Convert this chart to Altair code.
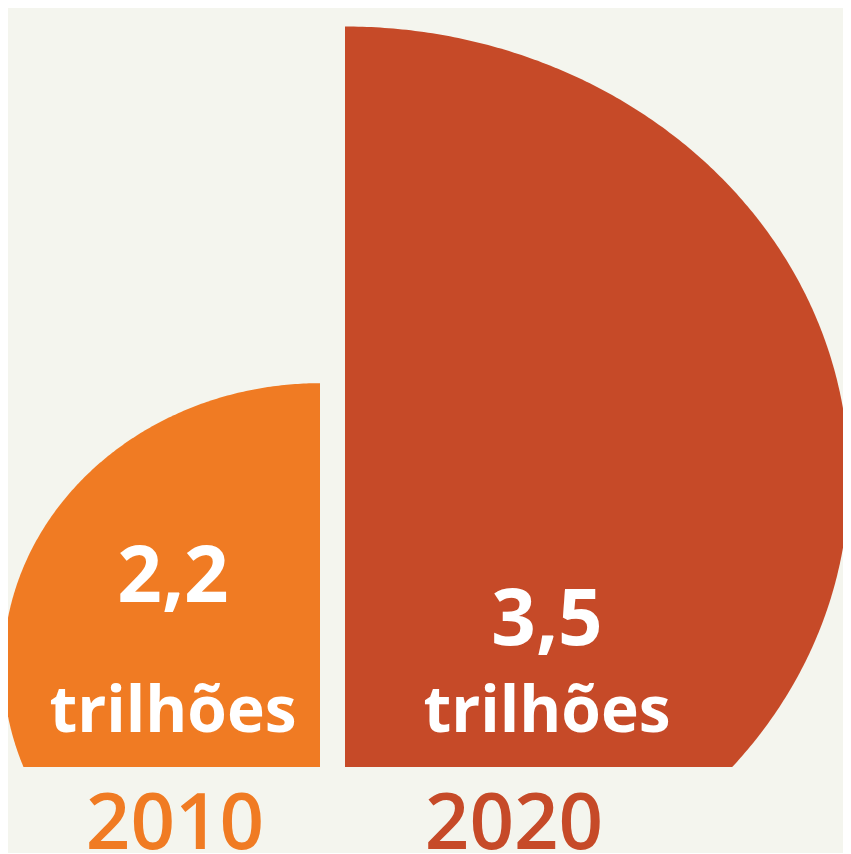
import altair as alt
import pandas as pd

# ---- data ----
years = ["2010", "2020"]
values = [2.2, 3.5]                 # trillions
value_labels = ["2,2", "3,5"]
unit_label = "trilhões"
colors = ["#F07B23", "#C64A28"]

# ---- layout (in value units; x and y have their own px per unit) ----
PX_X, PX_Y = 144.0, 129.0
W, H = 835, 759
AXIS_PX = 312                       # x pixel of the shared axis between halves
x_dom = [-AXIS_PX / PX_X, (W - AXIS_PX) / PX_X]
y_dom = [0, H / PX_Y]

side = [-1, 1]
center_x = [0.0, 25 / PX_X]
center_y = [100 / PX_Y, 289 / PX_Y]
label_x = [-147 / PX_X, 227 / PX_X]
value_y = [165 / PX_Y, 122 / PX_Y]
unit_y = [35 / PX_Y, 35 / PX_Y]
year_x = [-145 / PX_X, 194 / PX_X]
year_y = [-82 / PX_Y, -82 / PX_Y]

angles = [a / 2 for a in range(0, 181)]   # sampling steps (degrees) of the outline

shapes_df = pd.DataFrame({
    "year": years, "value": values, "side": side,
    "cx": center_x, "cy": center_y,
}).merge(pd.DataFrame({"phi": angles}), how="cross")

labels_df = pd.DataFrame({
    "year": years, "vlabel": value_labels, "unit": [unit_label] * 2,
    "lx": label_x, "vy": value_y, "uy": unit_y, "yx": year_x, "yy": year_y,
})

xs = alt.Scale(domain=x_dom, nice=False, zero=False)
ys = alt.Scale(domain=y_dom, nice=False, zero=False)
cs = alt.Scale(domain=years, range=colors)

# half-ellipse: horizontal half-width = value, vertical half-height = value
shapes = (
    alt.Chart(shapes_df)
    .transform_calculate(
        px="datum.cx + datum.side * datum.value * cos(datum.phi * PI / 180)",
        ptop="datum.cy + datum.value * sin(datum.phi * PI / 180)",
        pbot="datum.cy - datum.value * sin(datum.phi * PI / 180)",
    )
    .mark_area(clip=True, interpolate="linear")
    .encode(
        x=alt.X("px:Q", scale=xs, axis=None),
        y=alt.Y("ptop:Q", scale=ys, axis=None, stack=None),
        y2=alt.Y2("pbot:Q"),
        color=alt.Color("year:N", scale=cs, legend=None),
    )
)

value_text = alt.Chart(labels_df).mark_text(
    font="Open Sans", fontWeight="bold", fontSize=78, color="white",
    align="center", baseline="alphabetic",
).encode(
    x=alt.X("lx:Q", scale=xs, axis=None),
    y=alt.Y("vy:Q", scale=ys, axis=None),
    text="vlabel:N",
)

unit_text = alt.Chart(labels_df).mark_text(
    font="Open Sans", fontWeight="bold", fontSize=64, color="white",
    align="center", baseline="alphabetic",
).encode(
    x=alt.X("lx:Q", scale=xs, axis=None),
    y=alt.Y("uy:Q", scale=ys, axis=None),
    text="unit:N",
)

year_text = alt.Chart(labels_df).mark_text(
    font="Open Sans", fontWeight=600, fontSize=78,
    align="center", baseline="alphabetic",
).encode(
    x=alt.X("yx:Q", scale=xs, axis=None),
    y=alt.Y("yy:Q", scale=ys, axis=None),
    text="year:N",
    color=alt.Color("year:N", scale=cs, legend=None),
)

chart = (
    alt.layer(shapes, value_text, unit_text, year_text)
    .properties(
        width=W, height=H,
        padding={"left": 0, "top": 0, "right": 0, "bottom": 86},
        autosize=alt.AutoSizeParams(type="none"),
        background="#F4F5EE",
    )
    .configure_view(stroke=None)
)

chart.save("out.html", embed_options={"renderer": "svg", "actions": False})
